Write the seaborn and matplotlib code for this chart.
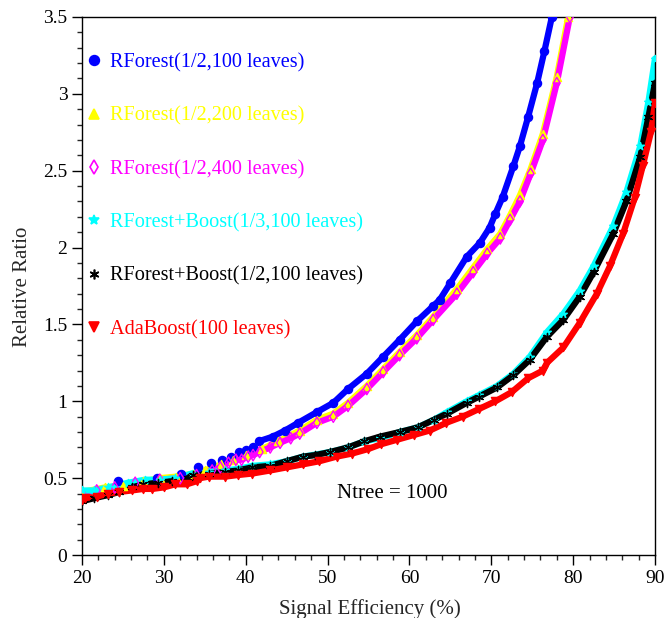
import numpy as np
import pandas as pd
import matplotlib
matplotlib.use("Agg")
import matplotlib.pyplot as plt
import seaborn as sns
from matplotlib.lines import Line2D
from matplotlib.ticker import MultipleLocator

# Curvas (eficiencia de senal %, razon relativa)
blue_x = [24.4, 29.2, 32.1, 34.2, 35.8, 37.1, 38.2, 39.2, 40.0, 40.9, 41.6, 43.3, 44.8, 46.4,
          48.7, 50.7, 52.5, 54.8, 56.8, 58.8, 60.9, 62.9, 63.7, 65.0, 67.0, 68.6, 69.8, 70.5,
          71.4, 72.7, 73.5, 74.5, 75.6, 76.5, 77.4]
blue_y = [0.48, 0.50, 0.53, 0.57, 0.60, 0.62, 0.64, 0.67, 0.68, 0.70, 0.74, 0.77, 0.81, 0.86,
          0.93, 0.99, 1.08, 1.18, 1.29, 1.40, 1.52, 1.62, 1.66, 1.77, 1.94, 2.03, 2.13, 2.22,
          2.33, 2.53, 2.66, 2.85, 3.07, 3.28, 3.50]

yellow_x = [20.0, 22.8, 25.0, 27.5, 29.5, 31.5, 33.6, 35.0, 37.0, 38.5, 40.0, 42.0, 44.0, 46.6,
            48.7, 50.7, 52.5, 54.8, 56.8, 58.8, 60.9, 62.9, 65.8, 67.8, 69.5, 71.1, 72.3, 73.5,
            74.8, 76.3, 78.0, 79.4]
yellow_y = [0.41, 0.44, 0.45, 0.48, 0.50, 0.51, 0.53, 0.55, 0.59, 0.62, 0.65, 0.69, 0.74, 0.81,
            0.88, 0.92, 0.99, 1.10, 1.21, 1.32, 1.43, 1.55, 1.73, 1.87, 1.99, 2.09, 2.21, 2.34,
            2.51, 2.74, 3.11, 3.50]

mag_x = [20.0, 21.8, 24.0, 26.5, 29.5, 32.0, 34.0, 35.9, 36.9, 37.9, 38.8, 39.5, 40.3, 40.9,
         41.7, 43.0, 44.2, 45.5, 46.6, 48.7, 50.7, 52.5, 54.8, 56.8, 58.8, 60.9, 62.9, 65.8,
         67.8, 69.5, 71.1, 72.3, 73.5, 74.8, 76.3, 78.0, 79.6]
mag_y = [0.40, 0.42, 0.44, 0.47, 0.49, 0.50, 0.52, 0.55, 0.57, 0.60, 0.62, 0.62, 0.64, 0.65,
         0.67, 0.70, 0.73, 0.76, 0.79, 0.86, 0.90, 0.97, 1.08, 1.19, 1.30, 1.41, 1.53, 1.70,
         1.84, 1.96, 2.06, 2.18, 2.30, 2.48, 2.70, 3.07, 3.50]

cyan_x = [20.0, 21.5, 23.2, 25.6, 27.7, 29.5, 31.4, 33.4, 35.5, 37.5, 39.0, 40.8, 43.0, 45.0,
          47.0, 50.3, 52.5, 54.5, 56.4, 58.8, 61.0, 63.0, 64.6, 67.0, 68.5, 70.7, 72.7, 74.7,
          76.8, 78.8, 80.8, 82.5, 84.9, 86.5, 88.2, 89.2, 90.0]
cyan_y = [0.42, 0.42, 0.44, 0.47, 0.49, 0.49, 0.50, 0.53, 0.54, 0.55, 0.56, 0.58, 0.59, 0.61,
          0.64, 0.67, 0.70, 0.74, 0.76, 0.80, 0.83, 0.88, 0.93, 1.00, 1.04, 1.10, 1.18, 1.29,
          1.45, 1.57, 1.72, 1.88, 2.14, 2.36, 2.66, 2.95, 3.23]

black_x = [20.0, 21.5, 23.2, 24.5, 26.1, 27.5, 29.3, 31.0, 32.9, 33.6, 35.5, 37.5, 39.0, 40.8,
           43.0, 45.0, 47.0, 48.5, 50.3, 52.5, 54.5, 56.4, 58.8, 61.0, 63.0, 64.6, 67.0, 68.5,
           70.7, 72.7, 74.7, 76.8, 78.8, 80.8, 82.5, 84.9, 86.5, 88.2, 89.2, 90.0]
black_y = [0.35, 0.37, 0.39, 0.41, 0.44, 0.46, 0.47, 0.48, 0.50, 0.52, 0.53, 0.54, 0.55, 0.57,
           0.58, 0.61, 0.64, 0.65, 0.67, 0.70, 0.74, 0.77, 0.80, 0.83, 0.88, 0.92, 0.99, 1.03,
           1.09, 1.17, 1.27, 1.42, 1.53, 1.68, 1.84, 2.09, 2.30, 2.59, 2.85, 3.07]

red_x = [20.0, 20.4, 21.8, 23.2, 24.5, 26.1, 27.5, 28.6, 30.0, 31.4, 32.8, 34.0, 34.4, 35.5,
         37.5, 39.0, 40.8, 43.0, 45.0, 47.0, 49.0, 51.1, 53.0, 55.0, 56.5, 58.5, 60.5, 62.5,
         64.5, 66.5, 68.5, 70.5, 72.5, 74.5, 76.3, 76.8, 78.8, 80.8, 82.9, 84.5, 86.1, 87.5,
         88.5, 89.5, 90.0]
red_y = [0.36, 0.37, 0.38, 0.40, 0.41, 0.42, 0.43, 0.43, 0.44, 0.46, 0.46, 0.48, 0.50, 0.51,
         0.51, 0.52, 0.53, 0.55, 0.57, 0.59, 0.61, 0.64, 0.66, 0.69, 0.72, 0.75, 0.78, 0.81,
         0.86, 0.90, 0.95, 1.00, 1.06, 1.15, 1.20, 1.25, 1.35, 1.51, 1.70, 1.88, 2.09, 2.32,
         2.53, 2.75, 2.94]

etiquetas = ['RForest(1/2,100 leaves)', 'RForest(1/2,200 leaves)', 'RForest(1/2,400 leaves)',
             'RForest+Boost(1/3,100 leaves)', 'RForest+Boost(1/2,100 leaves)', 'AdaBoost(100 leaves)']
colores = ['#0000ff', '#ffff00', '#ff00ff', '#00ffff', '#000000', '#ff0000']
marcadores = ['o', '^', 'd', '*', (6, 2, 0), 'v']
rellenos = [True, True, False, True, True, True]
# a partir de que eficiencia los puntos se ven pegados (trazo continuo)
inicio_denso = [41.0, 20.0, 20.0, 20.0, 20.0, 20.0]

series = [(blue_x, blue_y), (yellow_x, yellow_y), (mag_x, mag_y),
          (cyan_x, cyan_y), (black_x, black_y), (red_x, red_y)]

sns.set_style('ticks')
plt.rcParams['font.family'] = ['Liberation Serif', 'DejaVu Serif']

fig = plt.figure(figsize=(6.67, 6.18), dpi=100)
ax = fig.add_axes([0.1229, 0.1019, 0.8591, 0.8706])

for (xs, ys), col, mk, fill, x0 in zip(series, colores, marcadores, rellenos, inicio_denso):
    xs = np.array(xs)
    ys = np.array(ys)
    m = xs >= x0
    # trazo grueso que imita la nube de marcadores
    sns.lineplot(x=xs[m], y=ys[m], ax=ax, color=col, lw=4.5, sort=False,
                 solid_capstyle='round', solid_joinstyle='round')
    sns.scatterplot(x=xs, y=ys, ax=ax, marker=mk, s=34, linewidth=1.0,
                    facecolor=col if fill else 'none', edgecolor=col, zorder=3)

ax.set_xlim(20, 90)
ax.set_ylim(0, 3.5)
ax.xaxis.set_major_locator(MultipleLocator(10))
ax.xaxis.set_minor_locator(MultipleLocator(2))
ax.yaxis.set_minor_locator(MultipleLocator(0.1))
ax.set_yticks([0, 0.5, 1, 1.5, 2, 2.5, 3, 3.5])
ax.set_yticklabels(['0', '0.5', '1', '1.5', '2', '2.5', '3', '3.5'])
ax.tick_params(which='major', direction='out', length=7, width=1, labelsize=14, colors='black')
ax.tick_params(which='minor', direction='out', length=3.5, width=1)
for s in ax.spines.values():
    s.set_visible(True)
    s.set_color('black')
    s.set_linewidth(1)

ax.set_xlabel('Signal Efficiency (%)', fontsize=15)
ax.xaxis.set_label_coords(0.503, -0.081)
ax.set_ylabel('Relative Ratio', fontsize=15)
ax.yaxis.set_label_coords(-0.088, 0.498)

manejadores = [Line2D([], [], linestyle='none', marker=mk, color=col, markersize=7,
                      markerfacecolor=col if fill else 'none', markeredgecolor=col, markeredgewidth=1.2)
               for col, mk, fill in zip(colores, marcadores, rellenos)]
ley = ax.legend(manejadores, etiquetas, loc='upper left', bbox_to_anchor=(-0.018, 0.959),
                frameon=False, fontsize=14.6, labelspacing=1.68, handlelength=0.8,
                handletextpad=0.4, borderaxespad=0.3, labelcolor=colores)

ax.text(51.1, 0.40, 'Ntree = 1000', fontsize=15, color='black', va='center', ha='left')

fig.savefig('out.png', dpi=100)
